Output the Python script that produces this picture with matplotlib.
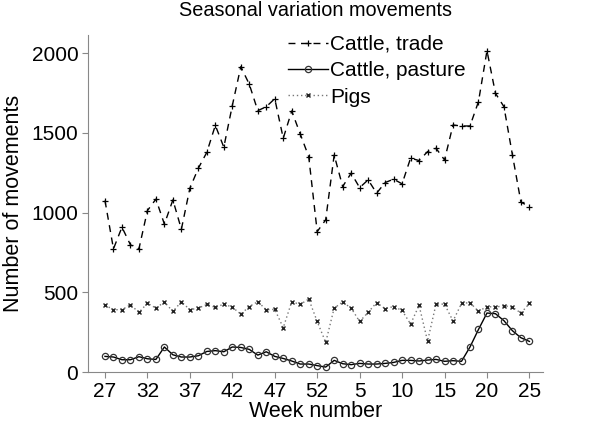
import matplotlib
matplotlib.use("Agg")
import matplotlib.pyplot as plt
import numpy as np

plt.rcParams['font.family'] = ['Liberation Sans', 'DejaVu Sans']

# weeks from 27 (2005) through 25 (next year)
weeks = list(range(27, 53)) + list(range(1, 26))

trade = [1076, 773, 909, 798, 773, 1013, 1085, 928, 1080, 896,
         1153, 1279, 1379, 1548, 1411, 1672, 1916, 1806, 1640, 1665,
         1715, 1467, 1638, 1494, 1352, 881,
         955, 1362, 1164, 1248, 1157, 1206, 1122, 1189, 1210, 1181,
         1342, 1327, 1383, 1404, 1331, 1550, 1544, 1544, 1697, 2016,
         1749, 1665, 1362, 1066, 1038]

pasture = [98, 94, 77, 77, 96, 83, 79, 157, 108, 94,
           94, 102, 129, 134, 127, 157, 154, 142, 106, 127,
           98, 85, 69, 50, 50, 40,
           31, 73, 52, 46, 54, 50, 50, 54, 60, 73,
           73, 69, 75, 79, 67, 71, 67, 157, 267, 370,
           366, 322, 259, 215, 192]

pigs = [420, 391, 391, 422, 374, 432, 401, 439, 380, 441,
        391, 401, 424, 405, 426, 407, 363, 411, 441, 391,
        393, 278, 441, 424, 458, 317,
        186, 401, 439, 401, 317, 374, 436, 397, 411, 386,
        301, 418, 194, 426, 426, 320, 430, 436, 380, 411,
        407, 416, 407, 370, 430]

x = np.arange(len(weeks))

fig = plt.figure(figsize=(6, 4.28), dpi=100)
ax = fig.add_axes([88/600, 1 - 372/428, 455/600, 337/428])

ax.plot(x, trade, color='black', linestyle=(0, (5, 4)), linewidth=1,
        marker='+', markersize=5, markeredgewidth=0.9, label='Cattle, trade')
ax.plot(x, pasture, color='black', linestyle='-', linewidth=1,
        marker='o', markersize=4.5, markerfacecolor='none',
        markeredgecolor='#333333', markeredgewidth=0.9, label='Cattle, pasture')
ax.plot(x, pigs, color='#777777', linestyle=(0, (1, 2)), linewidth=1,
        marker='x', markersize=3, markeredgewidth=1, markeredgecolor='#222222',
        label='Pigs')

tick_idx = x[::5]
ax.set_xticks(tick_idx)
ax.set_xticklabels([str(weeks[i]) for i in tick_idx])
ax.set_yticks([0, 500, 1000, 1500, 2000])
ax.set_xlim(-2, 51.6)
ax.set_ylim(0, 2115)

for s in ['top', 'right']:
    ax.spines[s].set_visible(False)
for s in ['left', 'bottom']:
    ax.spines[s].set_color('#888888')
ax.tick_params(colors='#888888', labelcolor='black', labelsize=15, length=4, pad=3)

ax.set_xlabel('Week number', fontsize=15.5, labelpad=0)
ax.set_ylabel('Number of movements', fontsize=15.5, labelpad=5)
ax.set_title('Seasonal variation movements', fontsize=14.3, pad=14)

ax.legend(loc='upper left', bbox_to_anchor=(0.44, 1.0), frameon=False,
          fontsize=15, handlelength=1.9, handletextpad=0.1,
          labelspacing=0.35, borderaxespad=0, borderpad=0)

fig.savefig('out.png', dpi=100)
